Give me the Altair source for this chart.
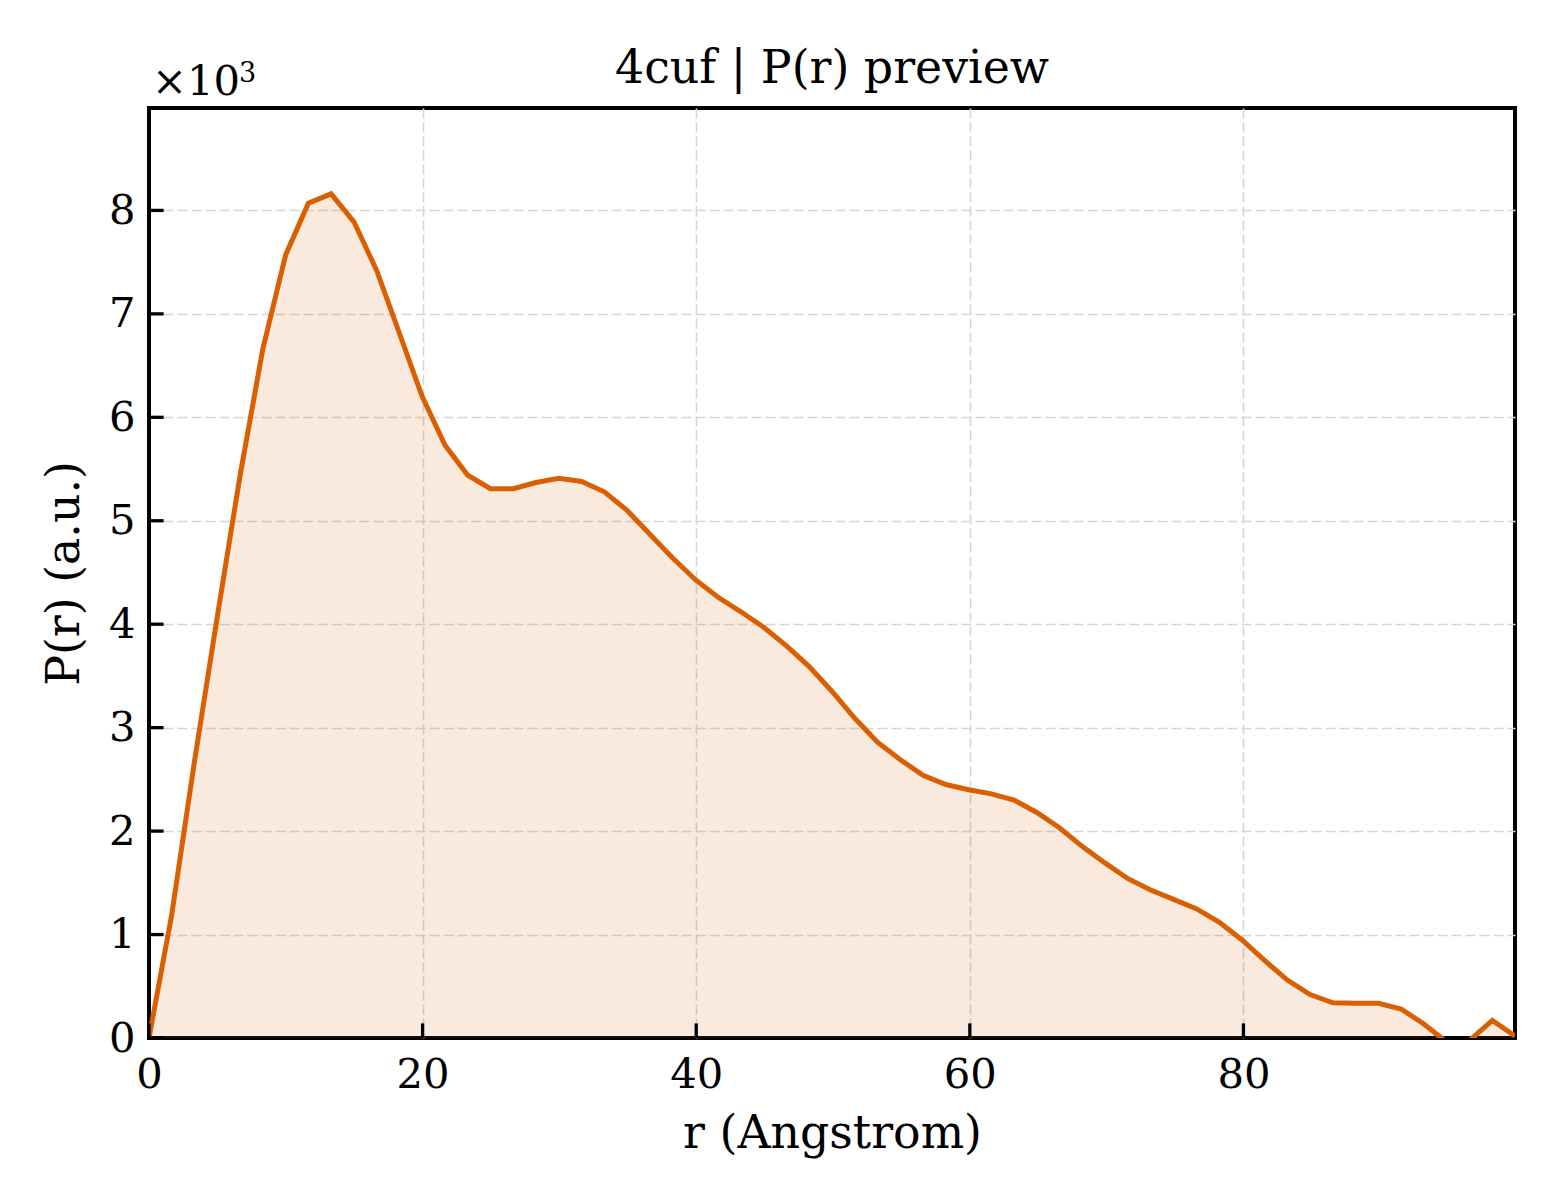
import pandas as pd
import altair as alt

# P(r) curve (r in Angstrom, P(r) in a.u.)
r_values = [
    0.00, 1.66, 3.33, 4.99, 6.66, 8.32, 9.99, 11.65, 13.31, 14.98,
    16.64, 18.31, 19.97, 21.64, 23.30, 24.96, 26.63, 28.29, 29.96, 31.62,
    33.28, 34.95, 36.61, 38.28, 39.94, 41.60, 43.27, 44.93, 46.60, 48.26,
    49.93, 51.59, 53.25, 54.92, 56.58, 58.25, 59.91, 61.57, 63.24, 64.90,
    66.57, 68.23, 69.90, 71.56, 73.22, 74.89, 76.55, 78.22, 79.88, 81.54,
    83.21, 84.87, 86.54, 88.20, 89.87, 91.53, 93.19, 94.86, 96.52, 98.19,
    99.85,
]
pr_values = [
    0, 1190, 2680, 4070, 5440, 6660, 7570, 8070, 8160, 7890,
    7420, 6810, 6200, 5730, 5440, 5310, 5310, 5370, 5410, 5380,
    5280, 5100, 4870, 4640, 4430, 4260, 4120, 3970, 3790, 3590,
    3350, 3090, 2860, 2690, 2540, 2450, 2400, 2360, 2300, 2180,
    2030, 1850, 1690, 1540, 1430, 1340, 1250, 1120, 950, 750,
    560, 420, 340, 335, 335, 280, 135, -40, -25, 170,
    20,
]

x_ticks = [0, 20, 40, 60, 80]
y_ticks = [0, 1000, 2000, 3000, 4000, 5000, 6000, 7000, 8000]
title_text = "4cuf | P(r) preview"
offset_base = "×10"
offset_exp = "3"

FONT = "DejaVu Serif"
COLOR = "#d95f02"
W, H = 1366, 930

df = pd.DataFrame({"r": r_values, "pr": pr_values})
xt = pd.DataFrame({"x": x_ticks})
yt = pd.DataFrame({"y": y_ticks})
labels = pd.DataFrame({"title": [title_text], "base": [offset_base], "exp": [offset_exp]})

xscale = alt.Scale(domain=[0, 99.85], nice=False, zero=False)
yscale = alt.Scale(domain=[0, 8990], nice=False)

# no grid line on the frame itself
no_edge_grid = {"condition": {"test": "datum.value == 0", "value": 0}, "value": 1}

x_enc = alt.X(
    "r:Q",
    scale=xscale,
    title="r (Angstrom)",
    axis=alt.Axis(values=x_ticks, format="d", labelFlush=False, labelPadding=16,
                  titlePadding=16, gridOpacity=no_edge_grid),
)
y_enc = alt.Y(
    "pr:Q",
    scale=yscale,
    title="P(r) (a.u.)",
    axis=alt.Axis(values=y_ticks, labelExpr="datum.value / 1000", labelFlush=False,
                  labelPadding=14, titlePadding=20, gridOpacity=no_edge_grid),
)

area = alt.Chart(df).mark_area(color=COLOR, opacity=0.13, clip=True).encode(x=x_enc, y=y_enc)
line = alt.Chart(df).mark_line(color=COLOR, strokeWidth=5, clip=True).encode(x="r:Q", y="pr:Q")

# inward tick marks
yticks = alt.Chart(yt).mark_rule(color="black", strokeWidth=3.3).encode(
    y="y:Q", x=alt.value(0), x2=alt.value(14.6)
)
xticks = alt.Chart(xt).mark_rule(color="black", strokeWidth=3.3).encode(
    x="x:Q", y=alt.value(H), y2=alt.value(H - 14.6)
)

title = alt.Chart(labels).mark_text(
    align="center", baseline="alphabetic", font=FONT, fontSize=45.8, color="black"
).encode(x=alt.value(W / 2), y=alt.value(-24.7), text="title:N")

offset = alt.Chart(labels).mark_text(
    align="left", baseline="alphabetic", font=FONT, fontSize=41.7, color="black"
).encode(x=alt.value(3), y=alt.value(-13), text="base:N")
offset_sup = alt.Chart(labels).mark_text(
    align="left", baseline="alphabetic", font=FONT, fontSize=27, color="black"
).encode(x=alt.value(90), y=alt.value(-26), text="exp:N")

chart = alt.layer(area, line, yticks, xticks, title, offset, offset_sup).properties(
    width=W,
    height=H,
    autosize=alt.AutoSizeParams(type="none"),
    padding={"left": 141, "top": 100, "right": 37, "bottom": 150},
).configure_view(
    stroke="black", strokeWidth=4
).configure_axis(
    domain=False,
    ticks=False,
    grid=True,
    gridColor="#d6d6d6",
    gridDash=[10, 4],
    gridWidth=1.6,
    labelFont=FONT,
    labelFontSize=41.7,
    labelColor="black",
    labelOverlap=False,
    titleFont=FONT,
    titleFontSize=45.8,
    titleFontWeight="normal",
    titleColor="black",
)

chart.save("out.html", embed_options={"renderer": "svg", "actions": False})
